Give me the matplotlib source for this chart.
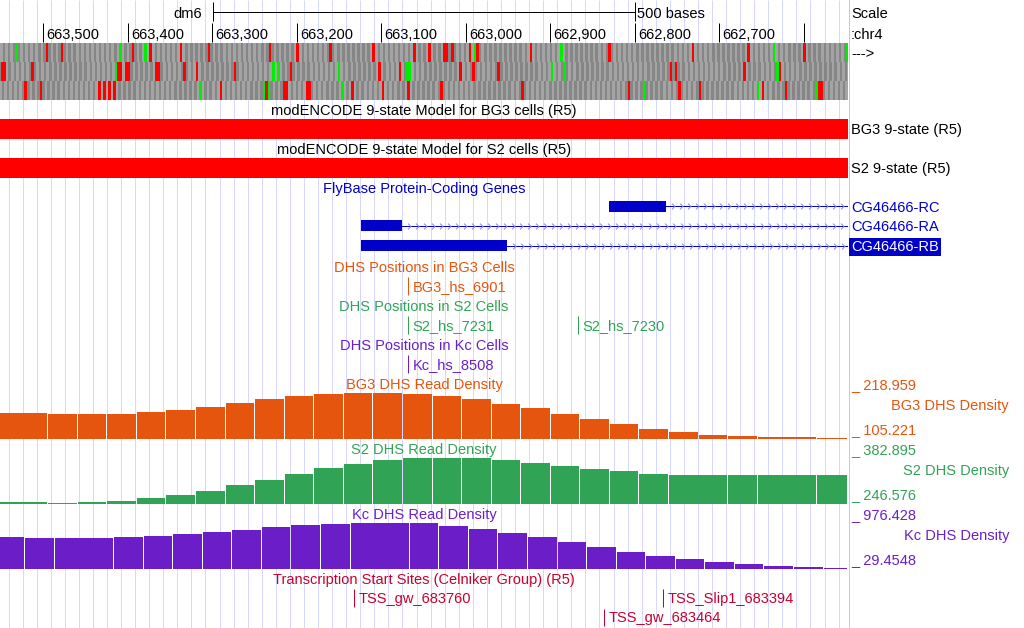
import numpy as np
import matplotlib
matplotlib.use("Agg")
import matplotlib.pyplot as plt
from matplotlib.path import Path

W, H    = 1024, 628
DATA_W  = 848

plt.rcParams['font.family'] = ['Liberation Sans', 'DejaVu Sans']
plt.rcParams['font.size']   = 10.5

# chr4 window (drawn reverse: high coordinate on the left)
WIN_START = 662548
WIN_END   = 663551

RULER_TICKS  = [663500, 663400, 663300, 663200, 663100, 663000, 662900, 662800, 662700, 662600]
RULER_LABELS = ['663,500', '663,400', '663,300', '663,200', '663,100',
                '663,000', '662,900', '662,800', '662,700', '']
SCALE_BASES  = 500

# three-frame translation: codon index from the left edge
FRAME_STOP = [
    [18, 24, 52, 59, 71, 82, 106, 117, 130, 147, 163, 169, 175, 176, 178, 185,
     188, 209, 240, 273, 295, 317],
    [0, 1, 12, 46, 47, 49, 50, 61, 62, 72, 77, 92, 114, 149, 157, 181, 186, 196,
     264, 266, 293, 307],
    [10, 16, 39, 41, 43, 45, 87, 105, 112, 113, 121, 122, 139, 151, 161, 174,
     206, 248, 268, 276, 301, 310, 323, 324],
]
FRAME_MET = [
    [6, 47, 57, 187, 221, 305, 334],
    [45, 107, 109, 133, 160, 161, 217, 222, 306],
    [79, 104, 106, 135, 254, 299, 322],
]
FRAME_SHIFT = [0, 1, -1]

# modENCODE 9-state segments
BG3_STATE = (662548, 663551)
S2_STATE  = (662548, 663551)

# FlyBase genes
GENE_NAMES     = ['CG46466-RC', 'CG46466-RA', 'CG46466-RB']
GENE_TX_START  = [662300, 662300, 662300]
GENE_CDS_START = [662763, 663076, 662951]
GENE_CDS_END   = [662830, 663124, 663124]

# DHS positions
BG3_DHS_NAMES = ['BG3_hs_6901']
BG3_DHS_POS   = [663068]
S2_DHS_NAMES  = ['S2_hs_7231', 'S2_hs_7230']
S2_DHS_POS    = [663068, 662867]
KC_DHS_NAMES  = ['Kc_hs_8508']
KC_DHS_POS    = [663068]

# DHS read density (bin edges, left to right on screen)
BG3_EDGES  = [663552, 663495, 663460, 663425, 663390, 663355, 663320, 663285, 663250,
              663215, 663180, 663145, 663110, 663075, 663040, 663005, 662970, 662935,
              662900, 662865, 662830, 662795, 662760, 662725, 662690, 662655, 662585,
              662548]
BG3_VALUES = [169.2, 166.7, 166.7, 166.7, 171.7, 176.7, 184.1, 194.1, 204.0, 211.5,
              215.7, 218.96, 218.96, 216.5, 211.5, 204.0, 191.6, 181.6, 166.7, 154.3,
              141.8, 129.4, 121.9, 114.4, 111.9, 109.4, 107.6]
BG3_RANGE  = (105.221, 218.959)

S2_EDGES  = [663552, 663495, 663460, 663425, 663390, 663355, 663320, 663285, 663250,
             663215, 663180, 663145, 663110, 663075, 663040, 663005, 662970, 662935,
             662900, 662865, 662830, 662795, 662760, 662690, 662655, 662585, 662548]
S2_VALUES = [251.6, 249.4, 251.6, 254.6, 263.6, 272.5, 284.5, 302.4, 317.3, 335.2,
             353.1, 365.0, 376.9, 382.9, 382.9, 382.9, 376.9, 368.0, 359.0, 350.1,
             344.1, 335.2, 332.2, 332.2, 332.2, 332.2]
S2_RANGE  = (246.576, 382.895)

KC_EDGES  = [663552, 663522, 663487, 663417, 663382, 663347, 663312, 663277, 663242,
             663207, 663172, 663137, 663067, 663032, 662997, 662962, 662927, 662892,
             662857, 662822, 662787, 662752, 662717, 662682, 662647, 662612, 662577,
             662548]
KC_VALUES = [690.0, 669.5, 669.5, 690.0, 710.4, 751.3, 792.2, 833.1, 894.5, 935.4,
             955.8, 976.4, 976.4, 914.9, 853.6, 771.8, 690.0, 587.7, 485.5, 383.2,
             301.4, 240.1, 178.7, 137.8, 96.9, 76.5, 50.0]
KC_RANGE  = (29.4548, 976.428)

# TSS (Celniker)
TSS_NAMES = ['TSS_gw_683760', 'TSS_Slip1_683394', 'TSS_gw_683464']
TSS_POS   = [663132, 662766, 662836]
TSS_ROW   = [0, 0, 1]

BLUE    = '#0000c8'
ORANGE  = '#e6550d'
GREEN   = '#31a354'
PURPLE  = '#6b1ec8'
CRIMSON = '#c8002d'
GRID    = '#d8d8ff'
PX      = 0.72   # one pixel in points
DY      = 1.3    # text sits a little lower than its box centre

CHEVRON = Path([(-0.5, 1.0), (0.5, 0.0), (-0.5, -1.0)],
               [Path.MOVETO, Path.LINETO, Path.LINETO])


def px_axes(fig, x, y, w, h):
    return fig.add_axes([x / W, 1 - (y + h) / H, w / W, h / H])


def genome_axes(fig, y, h, ylim):
    a = px_axes(fig, 0, y, DATA_W, h)
    a.set_xlim(WIN_END + 0.5, WIN_START - 0.5)
    a.set_ylim(*ylim)
    a.axis('off')
    return a


def density(fig, y, h, edges, values, vrange, color):
    a = genome_axes(fig, y, h, vrange)
    e = np.array(edges, dtype=float)
    v = np.array(values)
    centers = (e[:-1] + e[1:]) / 2
    widths  = np.abs(np.diff(e)) - 1.2
    a.bar(centers, v - vrange[0], width=widths, bottom=vrange[0],
          color=color, linewidth=0)


def title(ax, y, text, color='black'):
    ax.text((WIN_START + WIN_END) / 2, y + DY, text, color=color, ha='center',
            va='center', zorder=3)


def features(ax, positions, names, y_center, color):
    for pos, name in zip(positions, names):
        ax.vlines(pos, y_center - 8.5, y_center + 9, color=color, lw=PX, zorder=3)
        ax.annotate(name, (pos, y_center + DY), xytext=(3.2, 0), textcoords='offset points',
                    color=color, va='center', ha='left', zorder=3)


fig = plt.figure(figsize=(W / 100, H / 100), dpi=100)

# guidelines
grid = genome_axes(fig, 0, H, (H, 0))
step = 14.07 / (DATA_W / (WIN_END - WIN_START + 1))
grid.vlines(np.arange(WIN_END + 0.5 - 8.5 * step / 14.07, WIN_START, -step), 0, H,
            color=GRID, lw=PX)

# side labels
side = px_axes(fig, 0, 0, W, H)
side.set_xlim(0, W)
side.set_ylim(H, 0)
side.axis('off')
side.axvline(849, color='#f4b8b8', lw=PX)

ax = genome_axes(fig, 0, H, (H, 0))

# ruler
ax.vlines(RULER_TICKS, 23, 41.5, color='black', lw=PX)
for t, lab in zip(RULER_TICKS, RULER_LABELS):
    ax.annotate(lab, (t, 33.5 + DY), xytext=(2.2, 0), textcoords='offset points',
                va='center', ha='left')
mid = (WIN_START + WIN_END) / 2
sb_l, sb_r = mid + SCALE_BASES / 2, mid - SCALE_BASES / 2
ax.hlines(11.7, sb_l, sb_r, color='black', lw=PX)
ax.vlines([sb_l, sb_r], 2, 21, color='black', lw=PX)
ax.annotate('dm6', (sb_l, 12.5 + DY), xytext=(-7.5, 0), textcoords='offset points',
            va='center', ha='right')
ax.annotate('500 bases', (sb_r, 12.5 + DY), xytext=(1.5, 0), textcoords='offset points',
            va='center', ha='left')

# three-frame translation
for r in range(3):
    idx = np.arange(-1, 338)
    colors = np.where(idx % 2 == 0, '#a4a4a4', '#868686').astype(object)
    colors[np.isin(idx, FRAME_STOP[r])] = '#ff0000'
    colors[np.isin(idx, FRAME_MET[r])]  = '#00ee00'
    left = WIN_END + 0.5 - 3 * idx - FRAME_SHIFT[r]
    ax.bar(left - 1.5, 19, width=3, bottom=43 + 19 * r, color=list(colors),
           linewidth=0, zorder=2)

# 9-state tracks
for (s, e), top, name in [(BG3_STATE, 119, 'modENCODE 9-state Model for BG3 cells (R5)'),
                           (S2_STATE, 158, 'modENCODE 9-state Model for S2 cells (R5)')]:
    ax.bar((s + e) / 2, 19.5, width=e - s + 1, bottom=top, color='#ff0000',
           linewidth=0, zorder=2)
    title(ax, top - 9.5, name)

# genes
title(ax, 187.5, 'FlyBase Protein-Coding Genes', BLUE)
gene_y = [206.3, 225.8, 245.8]
for yc, tx0, c0, c1 in zip(gene_y, GENE_TX_START, GENE_CDS_START, GENE_CDS_END):
    ax.hlines(yc, tx0, c1, color=BLUE, lw=PX, zorder=2)
    ax.bar((c0 + c1) / 2, 11, width=c1 - c0, bottom=yc - 5.5, color=BLUE,
           linewidth=0, zorder=3)
    marks = np.arange(c0 - 8.5, WIN_START, -9.5)
    ax.plot(marks, np.full(len(marks), yc), linestyle='none', marker=CHEVRON, ms=4.2,
            mfc='none', mec='#8a8ae0', mew=0.7, zorder=3)

# DHS positions
title(ax, 267, 'DHS Positions in BG3 Cells', ORANGE)
features(ax, BG3_DHS_POS, BG3_DHS_NAMES, 285.5, ORANGE)
title(ax, 306, 'DHS Positions in S2 Cells', GREEN)
features(ax, S2_DHS_POS, S2_DHS_NAMES, 324.5, GREEN)
title(ax, 345, 'DHS Positions in Kc Cells', PURPLE)
features(ax, KC_DHS_POS, KC_DHS_NAMES, 363.5, PURPLE)

# read density
title(ax, 384, 'BG3 DHS Read Density', ORANGE)
title(ax, 449, 'S2 DHS Read Density', GREEN)
title(ax, 514, 'Kc DHS Read Density', PURPLE)

# TSS
title(ax, 579, 'Transcription Start Sites (Celniker Group) (R5)', CRIMSON)
for pos, name, row in zip(TSS_POS, TSS_NAMES, TSS_ROW):
    features(ax, [pos], [name], 597.5 + 19.5 * row, CRIMSON)

density(fig, 393, 46, BG3_EDGES, BG3_VALUES, BG3_RANGE, ORANGE)
density(fig, 458, 46, S2_EDGES, S2_VALUES, S2_RANGE, GREEN)
density(fig, 523, 46, KC_EDGES, KC_VALUES, KC_RANGE, PURPLE)

# right-hand labels
for txt, y in [('Scale', 13), (':chr4', 33.5), ('--->', 53),
               ('BG3 9-state (R5)', 129), ('S2 9-state (R5)', 168)]:
    side.text(851, y + DY, txt, va='center', ha='left')
side.text(851, 206.3 + DY, GENE_NAMES[0], color=BLUE, va='center')
side.text(851, 225.8 + DY, GENE_NAMES[1], color=BLUE, va='center')
side.text(851, 245.8 + DY, GENE_NAMES[2], color='white', va='center',
          bbox=dict(boxstyle='square,pad=0.12', fc=BLUE, ec='none'))

for (lo, hi), name, color, y in [(BG3_RANGE, 'BG3 DHS Density', ORANGE, 384),
                                 (S2_RANGE, 'S2 DHS Density', GREEN, 449),
                                 (KC_RANGE, 'Kc DHS Density', PURPLE, 514)]:
    side.text(851, y + DY, f'_ {hi:g}', color=color, va='center')
    side.text(1009, y + 21 + DY, name, color=color, va='center', ha='right')
    side.text(851, y + 45 + DY, f'_ {lo:g}', color=color, va='center')

fig.savefig('out.png', dpi=100)
